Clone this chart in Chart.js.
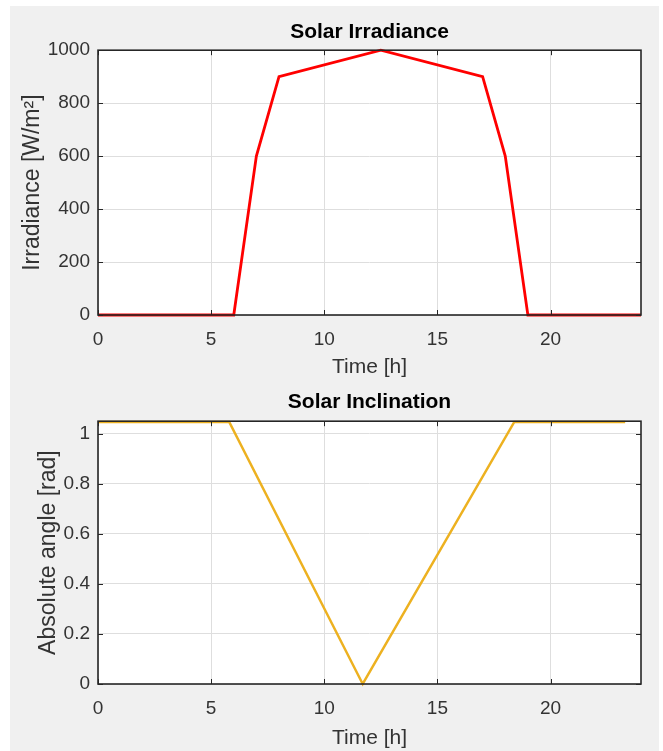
<!DOCTYPE html>
<html>
<head>
<meta charset="utf-8">
<script src="https://cdn.jsdelivr.net/npm/chart.js@4"></script>
<style>
  html, body { margin: 0; padding: 0; background: #fff; }
  #page { position: relative; width: 663px; height: 751px; overflow: hidden; }
  #figure { position: absolute; left: 10px; top: 6px; width: 649px; height: 745px; background: #f0f0f0; }
  #irrChart { position: absolute; left: 0; top: 0; }
  #incChart { position: absolute; left: 0; top: 380px; }
</style>
</head>
<body>
<div id="page">
  <div id="figure"></div>
  <canvas id="irrChart" width="663" height="380"></canvas>
  <canvas id="incChart" width="663" height="371"></canvas>
</div>
<script>
// data
const irrHours = [0, 6, 7, 8, 12.5, 17, 18, 19, 24];
const irradiance = [0, 0, 600, 900, 1000, 900, 600, 0, 0];
const incHours = [0, 5.8, 11.7, 18.4, 23.3];
const inclination = [1.047, 1.047, 0, 1.047, 1.047];
const timeTicks = [0, 5, 10, 15, 20];
const irrTicks = [0, 200, 400, 600, 800, 1000];
const incTicks = [0, 0.2, 0.4, 0.6, 0.8, 1];

const FONT = "'Liberation Sans', Arial, sans-serif";
const TICK_COLOR = '#333333';
const GRID_COLOR = '#dedede';

// white axes box + dark frame with inward tick marks (matlab look)
const axesBox = {
  id: 'axesBox',
  beforeDraw(chart) {
    const { ctx, chartArea: a } = chart;
    ctx.save();
    ctx.fillStyle = '#ffffff';
    ctx.fillRect(a.left, a.top, a.right - a.left, a.bottom - a.top);
    ctx.restore();
  },
  afterDatasetsDraw(chart) {
    const { ctx, chartArea: a, scales } = chart;
    ctx.save();
    ctx.strokeStyle = '#262626';
    ctx.lineWidth = 1;
    scales.x.ticks.forEach(t => {
      const px = Math.round(scales.x.getPixelForValue(t.value)) + 0.5;
      ctx.beginPath();
      ctx.moveTo(px, a.bottom); ctx.lineTo(px, a.bottom - 5);
      ctx.moveTo(px, a.top); ctx.lineTo(px, a.top + 5);
      ctx.stroke();
    });
    scales.y.ticks.forEach(t => {
      const py = Math.round(scales.y.getPixelForValue(t.value)) + 0.5;
      ctx.beginPath();
      ctx.moveTo(a.left, py); ctx.lineTo(a.left + 5, py);
      ctx.moveTo(a.right, py); ctx.lineTo(a.right - 5, py);
      ctx.stroke();
    });
    ctx.lineWidth = 1.6;
    ctx.strokeRect(a.left, a.top, a.right - a.left, a.bottom - a.top);
    ctx.restore();
  }
};

function keepTicks(list) {
  return scale => {
    scale.ticks = list.map(v => ({ value: v }));
  };
}

function makeChart(id, hours, values, color, width, yMax, yTicks, yTitle, opts) {
  return new Chart(document.getElementById(id), {
    type: 'line',
    data: {
      datasets: [{
        data: hours.map((h, i) => ({ x: h, y: values[i] })),
        borderColor: color,
        borderWidth: width,
        pointRadius: 0,
        tension: 0,
        clip: false
      }]
    },
    options: {
      responsive: false,
      animation: false,
      events: [],
      layout: { padding: { left: 0, right: 22, top: 0, bottom: 0 } },
      plugins: {
        legend: { display: false },
        tooltip: { enabled: false },
        title: {
          display: true,
          fullSize: false,
          text: opts.title,
          color: '#000000',
          font: { family: FONT, size: 21, weight: 'bold' },
          padding: { top: opts.titleTop, bottom: opts.titleBottom }
        }
      },
      scales: {
        x: {
          type: 'linear',
          min: 0,
          max: 24,
          afterBuildTicks: keepTicks(timeTicks),
          afterFit: s => { s.height = opts.xHeight; },
          grid: { color: GRID_COLOR, drawTicks: false },
          border: { display: false },
          ticks: {
            padding: 13,
            color: TICK_COLOR,
            font: { family: FONT, size: 19 },
            maxRotation: 0,
            callback: v => String(v)
          },
          title: {
            display: true,
            text: 'Time [h]',
            color: TICK_COLOR,
            font: { family: FONT, size: 21 },
            padding: { top: 0, bottom: 0 }
          }
        },
        y: {
          type: 'linear',
          min: 0,
          max: yMax,
          afterBuildTicks: keepTicks(yTicks),
          afterFit: s => { s.width = 98; },
          grid: { color: GRID_COLOR, drawTicks: false },
          border: { display: false },
          ticks: {
            padding: 8,
            color: TICK_COLOR,
            font: { family: FONT, size: 19 },
            callback: v => String(+v.toFixed(1))
          },
          title: {
            display: true,
            text: yTitle,
            color: TICK_COLOR,
            font: { family: FONT, size: 23 },
            padding: { top: opts.yTitlePad, bottom: 0 }
          }
        }
      }
    },
    plugins: [axesBox]
  });
}

makeChart('irrChart', irrHours, irradiance, '#ff0000', 2.8, 1000, irrTicks, 'Irradiance [W/m²]',
  { title: 'Solar Irradiance', titleTop: 20, titleBottom: 5, xHeight: 65, yTitlePad: 19 });

makeChart('incChart', incHours, inclination, '#edb120', 2.5, 1.05, incTicks, 'Absolute angle [rad]',
  { title: 'Solar Inclination', titleTop: 10, titleBottom: 6, xHeight: 67, yTitlePad: 35 });
</script>
</body>
</html>
